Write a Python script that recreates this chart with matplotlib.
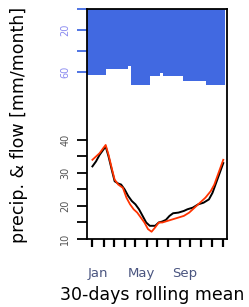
import numpy as np
import matplotlib
matplotlib.use("Agg")
import matplotlib.pyplot as plt

# month names (only Jan, May, Sep end up visible in the original)
months = ["Jan", "Feb", "Mar", "Apr", "May", "Jun", "Jul", "Aug", "Sep", "Oct", "Nov", "Dec"]
month_len = [31, 28, 31, 30, 31, 30, 31, 31, 30, 31, 30, 31]
shown_months = ["Jan", "May", "Sep"]

# 30-day rolling mean flow, observed (black) and simulated (red)
obs_day = [0, 10, 20, 30, 37, 45, 55, 62, 72, 80, 90, 100, 110, 120, 130, 140, 150, 160,
           175, 185, 195, 205, 215, 225, 240, 255, 265, 280, 295, 310, 325, 335, 345, 355, 365]
obs_q = [32.0, 33.5, 35.5, 37.0, 38.0, 35.0, 30.5, 27.5, 26.8, 26.5, 25.0, 23.0, 21.5, 20.5,
         19.0, 17.0, 15.0, 14.0, 14.0, 15.0, 15.3, 15.8, 17.0, 17.8, 18.0, 18.5, 19.0, 19.5,
         20.5, 21.0, 22.0, 24.0, 27.0, 30.0, 33.0]
sim_day = [0, 10, 20, 30, 37, 45, 55, 62, 72, 85, 95, 105, 115, 125, 135, 145, 155, 165,
           175, 185, 195, 210, 225, 240, 255, 270, 285, 300, 315, 330, 340, 350, 360, 365]
sim_q = [34.0, 35.0, 36.0, 37.5, 38.5, 35.5, 31.0, 28.0, 26.5, 25.5, 22.5, 20.5, 19.0, 18.0,
         16.5, 15.0, 13.0, 12.2, 13.5, 15.0, 15.0, 15.5, 16.0, 16.5, 17.0, 18.0, 19.5, 21.0,
         22.5, 24.5, 26.5, 29.5, 32.5, 34.0]

# precipitation, hanging from the top (inverted axis)
precip_edges = [-15, 37.3, 99.7, 106.4, 160.5, 188.5, 197.8, 253.8, 317.4, 370.6]
precip_vals = [62.9, 57.1, 54.3, 72.4, 63.8, 61.0, 63.8, 68.6, 72.4]

W, H = 249, 307
fig = plt.figure(figsize=(W / 100, H / 100), dpi=100)
ax = fig.add_axes([87 / W, 1 - 239 / H, (227 - 87) / W, (239 - 9.3) / H])

# precipitation on inverted twin axis, kept behind the flow axes
ax2 = ax.twinx()
ax2.stairs(precip_vals, precip_edges, baseline=0, fill=True, color="royalblue")
ax2.set_ylim(219.8, 0)
ax2.yaxis.tick_left()
ax2.set_yticks([0, 20, 40, 60])
ax2.set_yticklabels(["", "20", "", "60"], rotation=90, va="center", fontsize=7, color="#8a8af0")
ax2.tick_params(axis="y", length=7, width=1.3, color="royalblue", pad=5)
for s in ax2.spines.values():
    s.set_visible(False)
ax.set_zorder(ax2.get_zorder() + 1)
ax.patch.set_visible(False)

ax.plot(obs_day, obs_q, color="black", lw=1.4, zorder=3)
ax.plot(sim_day, sim_q, color="#ff3300", lw=1.3, zorder=4)
ax.set_xlim(-15.1, 375.4)
ax.set_ylim(10, 79.6)

# lower y axis (flow)
ax.set_yticks(np.arange(10, 41, 5))
ax.set_yticklabels(["10", "", "20", "", "30", "", "40"], rotation=90, va="center",
                   fontsize=7, color="#555555")
ax.tick_params(axis="y", length=7, width=1.3, pad=5)

# x axis: month boundaries as ticks, month names in between
starts = np.concatenate([[0], np.cumsum(month_len)])
ax.set_xticks(starts)
ax.set_xticklabels([])
ax.tick_params(axis="x", length=6, width=1.6, pad=2)
mids = starts[:-1] + np.array(month_len) / 2
ax.set_xticks(mids, minor=True)
ax.set_xticklabels([m if m in shown_months else "" for m in months], minor=True,
                   fontsize=9.5, color="#4a5580")
ax.tick_params(axis="x", which="minor", length=0, pad=20)

for s in ax.spines.values():
    s.set_linewidth(1.3)

fig.text(19 / W, 1 - 124.5 / H, "precip. & flow [mm/month]", rotation=90,
         ha="center", va="center", fontsize=12.5)
fig.text(60 / W, 1 - 295 / H, "30-days rolling mean", ha="left", va="center", fontsize=12.5)

fig.savefig("out.png", dpi=100)
